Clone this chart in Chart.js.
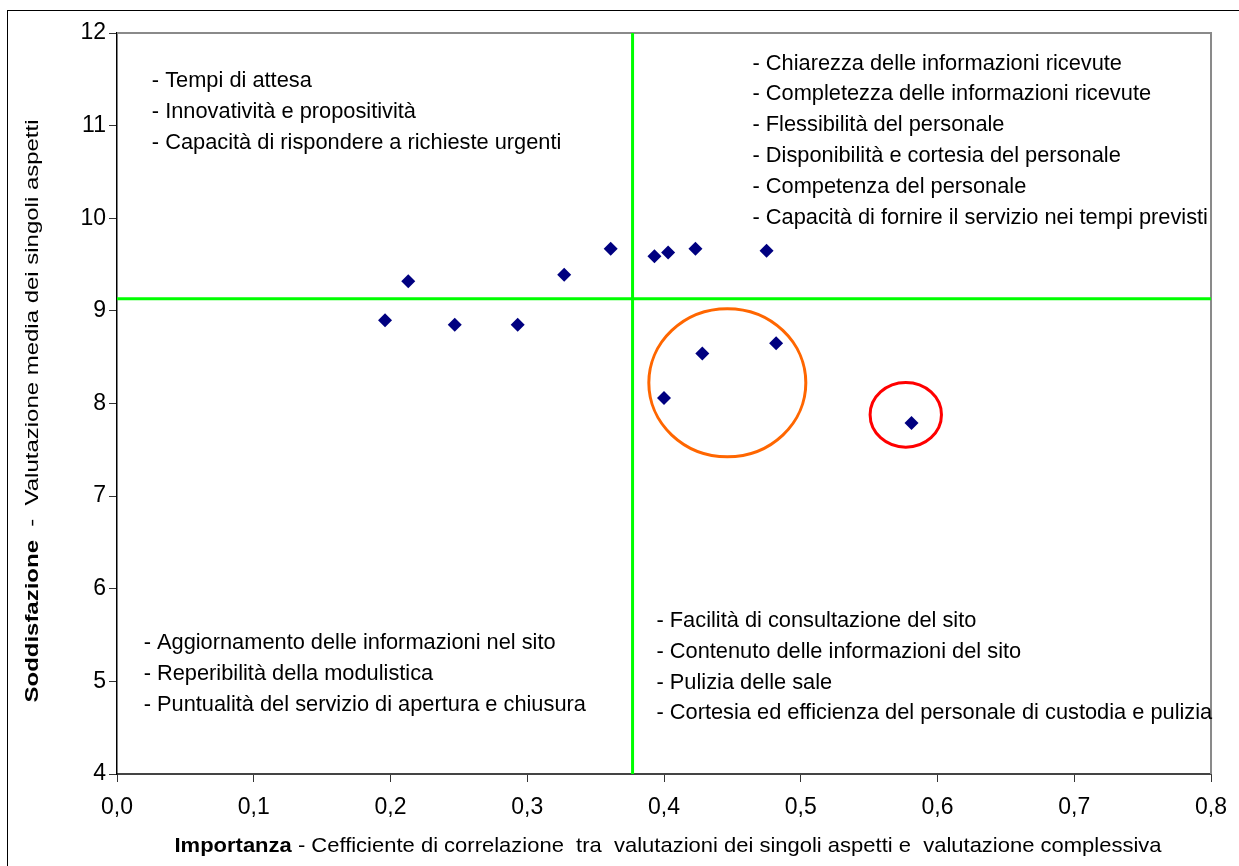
<!DOCTYPE html>
<html>
<head>
<meta charset="utf-8">
<script src="https://cdn.jsdelivr.net/npm/chart.js@4/dist/chart.umd.min.js"></script>
<style>
html,body{margin:0;padding:0;background:#fff;}
canvas{display:block;}
</style>
</head>
<body>
<canvas id="c" width="1239" height="866"></canvas>
<script>
// ---- Data ----
const importanza    = [0.196, 0.213, 0.247, 0.293, 0.327, 0.361, 0.393, 0.403, 0.423, 0.475, 0.482, 0.428, 0.400, 0.581];
const soddisfazione = [8.90, 9.32, 8.85, 8.85, 9.39, 9.67, 9.59, 9.63, 9.67, 9.65, 8.65, 8.54, 8.06, 7.79];

const sogliaImportanza = 0.377;    // vertical green line
const sogliaSoddisfazione = 9.13;  // horizontal green line

const xTicksMin = 0, xTicksMax = 0.8, xStep = 0.1;
const yTicksMin = 4, yTicksMax = 12, yStep = 1;

// highlighted groups (centre x, centre y, radius in x units, radius in y units)
const gruppoArancio = [0.4463, 8.224, 0.0574, 0.799];
const gruppoRosso   = [0.5768, 7.878, 0.0261, 0.349];

const testoAltoSinistra = ["- Tempi di attesa", "- Innovatività e propositività", "- Capacità di rispondere a richieste urgenti"];
const testoAltoDestra = ["- Chiarezza delle informazioni ricevute", "- Completezza delle informazioni ricevute", "- Flessibilità del personale", "- Disponibilità e cortesia del personale", "- Competenza del personale", "- Capacità di fornire il servizio nei tempi previsti"];
const testoBassoDestra = ["- Facilità di consultazione del sito", "- Contenuto delle informazioni del sito", "- Pulizia delle sale", "- Cortesia ed efficienza del personale di custodia e pulizia"];
const testoBassoSinistra = ["- Aggiornamento delle informazioni nel sito", "- Reperibilità della modulistica", "- Puntualità del servizio di apertura e chiusura"];

const titoloXBold = "Importanza";
const titoloXRest = " - Cefficiente di correlazione  tra  valutazioni dei singoli aspetti e  valutazione complessiva";
const titoloYBold = "Soddisfazione";
const titoloYRest = "  -  Valutazione media dei singoli aspetti";

// ---- Build ----
const punti = importanza.map((x, i) => ({x: x, y: soddisfazione[i]}));
const lineaVerticale = [{x: sogliaImportanza, y: yTicksMin}, {x: sogliaImportanza, y: yTicksMax}];
const lineaOrizzontale = [{x: xTicksMin, y: sogliaSoddisfazione}, {x: xTicksMax, y: sogliaSoddisfazione}];

const FONT = "'Liberation Sans', Arial, sans-serif";

const framePlugin = {
  id: 'frame',
  beforeDraw(chart) {
    const ctx = chart.ctx;
    ctx.save();
    ctx.fillStyle = '#fff';
    ctx.fillRect(0, 0, chart.width, chart.height);
    ctx.strokeStyle = '#000';
    ctx.lineWidth = 1;
    ctx.strokeRect(7.5, 10.5, 1300, 900);
    ctx.restore();
  },
  beforeDatasetsDraw(chart) {
    const ctx = chart.ctx, a = chart.chartArea;
    ctx.save();
    ctx.strokeStyle = '#8a8a8a';
    ctx.lineWidth = 2;
    ctx.beginPath();
    ctx.moveTo(a.left, a.top);
    ctx.lineTo(a.right, a.top);
    ctx.lineTo(a.right, a.bottom);
    ctx.stroke();
    ctx.restore();
  }
};

function drawEllipse(chart, g, color) {
  const xs = chart.scales.x, ys = chart.scales.y, ctx = chart.ctx;
  const cx = xs.getPixelForValue(g[0]);
  const cy = ys.getPixelForValue(g[1]);
  const rx = xs.getPixelForValue(g[0] + g[2]) - cx;
  const ry = cy - ys.getPixelForValue(g[1] + g[3]);
  ctx.save();
  ctx.strokeStyle = color;
  ctx.lineWidth = 3;
  ctx.beginPath();
  ctx.ellipse(cx, cy, rx, ry, 0, 0, Math.PI * 2);
  ctx.stroke();
  ctx.restore();
}

const ellipsePlugin = {
  id: 'ellipses',
  afterDatasetsDraw(chart) {
    drawEllipse(chart, gruppoArancio, '#ff6600');
    drawEllipse(chart, gruppoRosso, '#ff0000');
  }
};

function drawBlock(chart, lines, xv, yv) {
  const xs = chart.scales.x, ys = chart.scales.y, ctx = chart.ctx;
  const x = xs.getPixelForValue(xv);
  let y = ys.getPixelForValue(yv);
  ctx.save();
  ctx.fillStyle = '#000';
  ctx.font = '21.8px ' + FONT;
  ctx.textBaseline = 'middle';
  ctx.textAlign = 'left';
  lines.forEach((t, i) => ctx.fillText(t, x, y + i * 30.9));
  ctx.restore();
}

const textPlugin = {
  id: 'texts',
  afterDraw(chart) {
    drawBlock(chart, testoAltoSinistra, 0.0255, 11.48);
    drawBlock(chart, testoAltoDestra, 0.4647, 11.67);
    drawBlock(chart, testoBassoDestra, 0.3945, 5.655);
    drawBlock(chart, testoBassoSinistra, 0.0195, 5.41);

    const ctx = chart.ctx;
    // X title
    ctx.save();
    ctx.fillStyle = '#000';
    ctx.textBaseline = 'middle';
    ctx.font = 'bold 21px ' + FONT;
    const wb = ctx.measureText(titoloXBold).width;
    ctx.font = '21px ' + FONT;
    const wr = ctx.measureText(titoloXRest).width;
    const targetW = 987;
    const sx = targetW / (wb + wr);
    ctx.translate(668 - targetW / 2, 846);
    ctx.scale(sx, 1);
    ctx.font = 'bold 21px ' + FONT;
    ctx.fillText(titoloXBold, 0, 0);
    ctx.font = '21px ' + FONT;
    ctx.fillText(titoloXRest, wb, 0);
    ctx.restore();

    // Y title
    ctx.save();
    ctx.fillStyle = '#000';
    ctx.textBaseline = 'middle';
    ctx.font = 'bold 19px ' + FONT;
    const yb = ctx.measureText(titoloYBold).width;
    ctx.font = '19px ' + FONT;
    const yr = ctx.measureText(titoloYRest).width;
    const targetH = 583;
    const sy = targetH / (yb + yr);
    ctx.translate(33, 411 + targetH / 2);
    ctx.rotate(-Math.PI / 2);
    ctx.scale(sy, 1);
    ctx.font = 'bold 19px ' + FONT;
    ctx.fillText(titoloYBold, 0, 0);
    ctx.font = '19px ' + FONT;
    ctx.fillText(titoloYRest, yb, 0);
    ctx.restore();
  }
};

new Chart(document.getElementById('c'), {
  type: 'scatter',
  data: {
    datasets: [
      {
        label: 'Aspetti',
        data: punti,
        pointStyle: 'rectRot',
        pointRadius: 7,
        pointHoverRadius: 7,
        backgroundColor: '#000080',
        borderColor: '#000080',
        borderWidth: 0,
        order: 0
      },
      {
        label: 'Soglia importanza',
        data: lineaVerticale,
        showLine: true,
        pointRadius: 0,
        borderColor: '#00ff00',
        borderWidth: 3,
        order: 2
      },
      {
        label: 'Soglia soddisfazione',
        data: lineaOrizzontale,
        showLine: true,
        pointRadius: 0,
        borderColor: '#00ff00',
        borderWidth: 3,
        order: 2
      }
    ]
  },
  options: {
    responsive: false,
    animation: false,
    layout: { padding: { left: 0, top: 33, right: 26, bottom: 0 } },
    plugins: {
      legend: { display: false },
      tooltip: { enabled: false },
      title: { display: false }
    },
    scales: {
      x: {
        type: 'linear',
        min: xTicksMin, max: xTicksMax,
        afterFit(s) { s.height = 92; },
        ticks: {
          stepSize: xStep,
          color: '#000',
          font: { family: FONT, size: 23 },
          padding: 12,
          callback: v => v.toFixed(1).replace('.', ',')
        },
        grid: { drawOnChartArea: false, drawTicks: true, tickLength: 8, color: '#333', lineWidth: 1 },
        border: { display: true, color: '#444', width: 2 }
      },
      y: {
        type: 'linear',
        min: yTicksMin, max: yTicksMax,
        afterFit(s) { s.width = 117; },
        ticks: {
          stepSize: yStep,
          color: '#000',
          font: { family: FONT, size: 23 },
          padding: 3,
          callback: v => String(v)
        },
        grid: { drawOnChartArea: false, drawTicks: true, tickLength: 8, color: '#333', lineWidth: 1 },
        border: { display: true, color: '#000', width: 1.5 }
      }
    }
  },
  plugins: [framePlugin, ellipsePlugin, textPlugin]
});
</script>
</body>
</html>
